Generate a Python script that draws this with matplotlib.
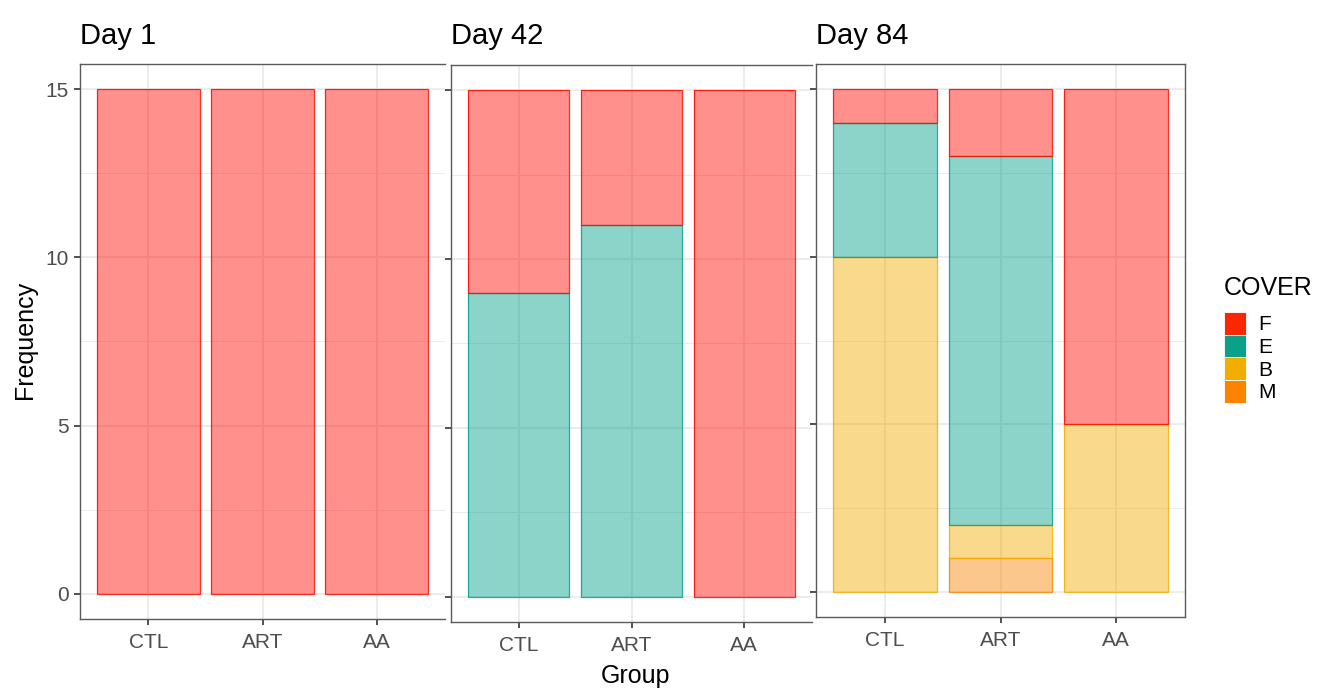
import matplotlib.pyplot as plt
from matplotlib.patches import Patch

plt.rcParams['font.family'] = ['Liberation Sans', 'DejaVu Sans']

days = ['Day 1', 'Day 42', 'Day 84']
groups = ['CTL', 'ART', 'AA']
covers = ['F', 'E', 'B', 'M']

# counts per day (rows) and group (columns)
cover_F = [[15, 15, 15], [6, 4, 15], [1, 2, 10]]
cover_E = [[0, 0, 0], [9, 11, 0], [4, 11, 0]]
cover_B = [[0, 0, 0], [0, 0, 0], [10, 1, 5]]
cover_M = [[0, 0, 0], [0, 0, 0], [0, 1, 0]]

colors = {'F': '#FF0A00', 'E': '#00A08A', 'B': '#F2AD00', 'M': '#F98400'}
legend_colors = {'F': '#FA2800', 'E': '#0BA08A', 'B': '#F2AD00', 'M': '#FA8400'}

W, H = 1319, 689
fig = plt.figure(figsize=(W / 100, H / 100), dpi=100)

# panel boxes in pixels: left, top, right, bottom
boxes = [(80, 64, 445, 619), (451, 65, 812, 622), (816, 64, 1185, 617)]

stack = [('M', cover_M), ('B', cover_B), ('E', cover_E), ('F', cover_F)]

for i, day in enumerate(days):
    l, t, r, b = boxes[i]
    ax = fig.add_axes([l / W, 1 - b / H, (r - l) / W, (b - t) / H])
    x = list(range(1, len(groups) + 1))
    bottom = [0, 0, 0]
    for name, data in stack:
        vals = data[i]
        for j in range(len(groups)):
            if vals[j] > 0:
                ax.bar(x[j], vals[j], width=0.9, bottom=bottom[j],
                       facecolor=colors[name], alpha=0.45, edgecolor='none', zorder=2)
                ax.bar(x[j], vals[j], width=0.9, bottom=bottom[j],
                       facecolor='none', edgecolor=colors[name], linewidth=0.9,
                       alpha=0.85, zorder=3)
        bottom = [bottom[k] + vals[k] for k in range(len(groups))]

    ax.set_xlim(0.4, 3.6)
    ax.set_ylim(-0.75, 15.75)
    ax.set_xticks(x)
    ax.set_xticklabels(groups)
    ax.set_yticks([0, 5, 10, 15])
    ax.set_yticks([2.5, 7.5, 12.5], minor=True)
    ax.grid(True, which='major', color='#EBEBEB', linewidth=1.3, zorder=0)
    ax.grid(True, which='minor', axis='y', color='#EBEBEB', linewidth=0.7, zorder=0)
    ax.set_axisbelow(True)
    ax.tick_params(axis='both', which='major', length=4, width=1.2, color='#333333',
                   labelsize=15, labelcolor='#4D4D4D', pad=4)
    ax.tick_params(axis='x', which='major', pad=6)
    ax.tick_params(axis='y', which='minor', length=0)
    if i > 0:
        ax.tick_params(axis='y', labelleft=False)
    for sp in ax.spines.values():
        sp.set_color('#5A5A5A')
        sp.set_linewidth(1.0)
    if i < 2:
        ax.spines['right'].set_visible(False)
    fig.text(l / W, 1 - 44 / H, day, fontsize=21, ha='left', va='baseline')

fig.text(636 / W, 1 - 676 / H, 'Group', fontsize=18, ha='center', va='center')
fig.text(25 / W, 1 - 340 / H, 'Frequency', fontsize=18, ha='center', va='center',
         rotation=90)

fig.text(1224 / W, 1 - 288 / H, 'COVER', fontsize=18, ha='left', va='center')
handles = [Patch(facecolor=legend_colors[c], edgecolor='white', linewidth=0.6)
           for c in covers]
leg = fig.legend(handles, covers, loc='upper left', bbox_to_anchor=(1224 / W, 1 - 312 / H),
                 frameon=False, fontsize=15,
                 handlelength=1.05, handleheight=1.3, labelspacing=0,
                 handletextpad=0.6, borderpad=0, borderaxespad=0)

fig.savefig('out.png', dpi=100)
